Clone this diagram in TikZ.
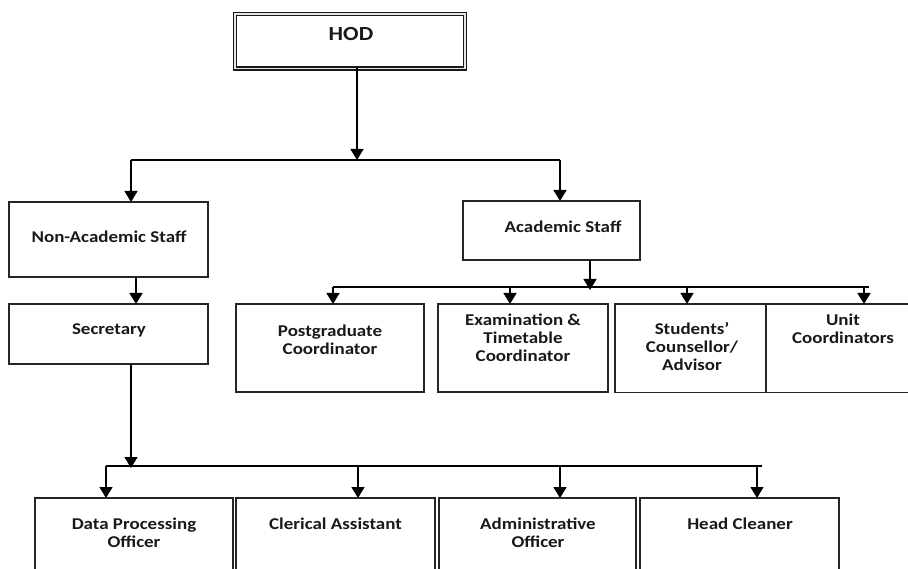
\documentclass[tikz,border=0pt]{standalone}
\usepackage{fontspec}
\newfontfamily\orgfont{Carlito}[FakeStretch=1.15]
\usetikzlibrary{arrows.meta}
\usetikzlibrary{calc}

\begin{document}
\begin{tikzpicture}[x=1pt,y=-1pt,
	box/.style={draw=black!85, line width=1.2pt, anchor=north west, inner sep=0pt, outer sep=0pt},
	txt/.style={font=\orgfont\bfseries\fontsize{16.5}{18}\selectfont, align=center, text=black!90, inner sep=0pt},
	link/.style={line width=1.4pt},
	arr/.style={link, -{Triangle[width=13pt,length=11pt]}}]

	\clip (0,0) rectangle (908,569);
	\useasboundingbox (0,0) rectangle (908,569);

	% Head of department
	\begin{scope}
		\node[draw=black!90, double=white!80!gray, double distance=1.3pt, line width=1.8pt, anchor=north west, inner sep=0pt, outer sep=0pt, minimum width=230, minimum height=54.5] (hod) at (235,14) {};
		\node[txt, font=\orgfont\bfseries\fontsize{20}{22}\selectfont] (hodtext) at (351,34) {HOD};
	\end{scope}

	% Staff boxes
	\begin{scope}
		\node[box, minimum width=199, minimum height=75] (nonacad) at (9,202) {};
		\node[txt] (nonacadtext) at (109,237) {Non-Academic Staff};

		\node[box, minimum width=199, minimum height=60] (secr) at (9,304) {};
		\node[txt] (secrtext) at (109,330) {Secretary};

		\node[box, minimum width=177, minimum height=59] (acad) at (463,201) {};
		\node[txt] (acadtext) at (563,227) {Academic Staff};
	\end{scope}

	% Academic units
	\begin{scope}
		\node[box, minimum width=188, minimum height=88] (post) at (236,304) {};
		\node[txt] (posttext) at (330,339.5) {Postgraduate\\Coordinator};

		\node[box, minimum width=170, minimum height=88] (exam) at (438,304) {};
		\node[txt] (examtext) at (523,338) {Examination \&\\Timetable\\Coordinator};

		\node[box, minimum width=151, minimum height=88.5] (couns) at (615,304) {};
		\node[txt] (counstext) at (692,347) {Students’\\Counsellor/\\Advisor};

		\node[box, minimum width=150, minimum height=88.5] (unit) at (766,304) {};
		\node[txt] (unittext) at (843,329) {Unit\\Coordinators};
	\end{scope}

	% Non-academic units
	\begin{scope}
		\node[box, minimum width=198, minimum height=90] (dpo) at (35,498) {};
		\node[txt] (dpotext) at (134,533) {Data Processing\\Officer};

		\node[box, minimum width=199, minimum height=90] (cler) at (236,498) {};
		\node[txt] (clertext) at (335.5,524) {Clerical Assistant};

		\node[box, minimum width=197, minimum height=90] (admin) at (439,498) {};
		\node[txt] (admintext) at (538,533) {Administrative\\Officer};

		\node[box, minimum width=199, minimum height=90] (clean) at (640,498) {};
		\node[txt] (cleantext) at (740,524) {Head Cleaner};
	\end{scope}

	% HOD to staff
	\coordinate (hodjoin) at (357,160);
	\coordinate (staffleft) at (131,160);
	\coordinate (staffright) at (560,160);
	\draw[arr] (hod.south -| hodjoin) -- (hodjoin);
	\draw[link] (staffleft) -- (staffright);
	\draw[arr] (staffleft) -- (staffleft |- nonacad.north);
	\draw[arr] (staffright) -- (staffright |- acad.north);

	% Non-academic staff to secretary
	\coordinate (secrjoin) at (136,290);
	\draw[arr] (nonacad.south -| secrjoin) -- (secr.north -| secrjoin);

	% Academic staff to units
	\coordinate (acadjoin) at (590,287);
	\coordinate (acadleft) at (333,287);
	\coordinate (acadright) at (869,287);
	\draw[arr] (acad.south -| acadjoin) -- ($(acadjoin)+(0,3)$);
	\draw[link] (acadleft) -- (acadright);
	\draw[arr] (acadleft) -- (acadleft |- post.north);
	\draw[arr] (510,287) -- (510,304);
	\draw[arr] (687,287) -- (687,304);
	\draw[arr] (864,287) -- (864,304);

	% Secretary to non-academic units
	\coordinate (secrdown) at (131,466);
	\coordinate (lowleft) at (106,466);
	\coordinate (lowright) at (762,466);
	\draw[arr] (secr.south -| secrdown) -- ($(secrdown)+(0,2)$);
	\draw[link] (lowleft) -- (lowright);
	\draw[arr] (lowleft) -- (lowleft |- dpo.north);
	\draw[arr] (358,466) -- (358,498);
	\draw[arr] (560,466) -- (560,498);
	\draw[arr] (757,466) -- (757,498);
\end{tikzpicture}
\end{document}
